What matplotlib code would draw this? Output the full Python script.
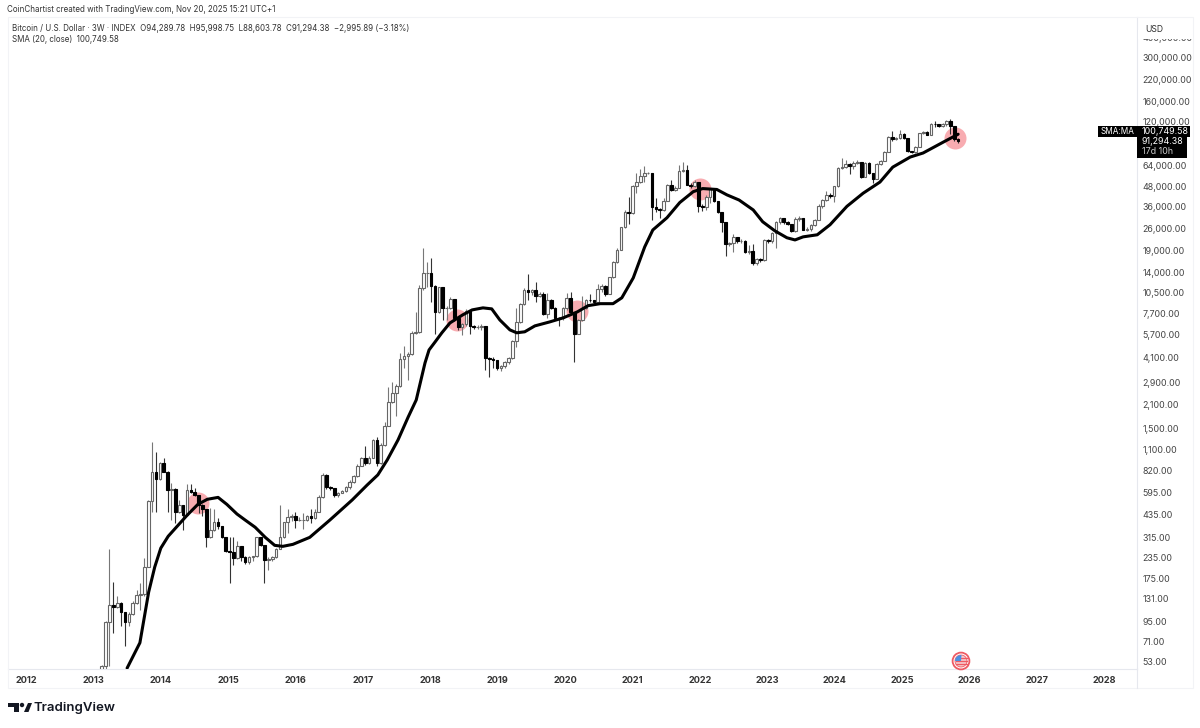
import matplotlib
matplotlib.use("Agg")
from matplotlib import pyplot as plt
from matplotlib.patches import Rectangle, Circle, Polygon, Wedge

plt.rcParams['font.family'] = ['Inter', 'DejaVu Sans']

# precios de cierre, maximos y minimos de cada vela de 3 semanas
first_open = 46
closes = [50, 94, 120, 117, 124, 109, 94, 105, 124, 139, 141, 207, 530, 800, 730, 910, 805, 620, 630, 450,
          500, 435, 620, 605, 578, 500, 473, 315, 350, 390, 370, 315, 260, 256, 235, 277, 238, 220, 238, 240,
          315, 282, 228, 232, 238, 268, 316, 390, 420, 428, 405, 405, 405, 428,
          418, 455, 560, 770, 645, 635, 575, 595, 610, 650, 695, 760, 880, 985, 910, 985, 1270, 910, 1175, 1560,
          2190, 2500, 2750, 4040, 4220, 4350, 5900, 5950, 11100, 13900, 13900, 11500, 7900, 11300, 8400, 8400,
          9550, 7300, 6400, 6660, 8050, 6500, 6350, 6400, 6450, 4100, 4050, 3980, 3560, 3650, 3850, 4100, 5200, 6900,
          8880, 10900, 10600, 10800, 10000, 10200, 7700, 9400, 8400, 7300, 7250, 8360, 9700, 7950, 5800, 7060,
          8360, 9400, 9350, 9200, 10950, 11550, 10200, 13000, 16100, 19300, 26600, 32900, 32600, 48200, 50500,
          55600, 57600, 57600, 35800, 34600, 34300, 38500, 48700, 45300, 47000, 59500, 60500, 49000, 48000, 50700,
          35900, 35800, 41000, 46000, 38500, 33000, 28700, 20900, 21200, 23000, 21800,
          21900, 18700, 19000, 16000, 16900, 16700, 22200, 22000, 24600, 28700, 30200, 28900, 27900, 25200, 30100,
          30200, 25700, 25800, 27500, 29600, 36200, 39300, 42400, 41900, 48000, 62200, 62800, 65500, 64200, 66700,
          67800, 54700, 66900, 57500, 53300, 65500, 68700, 78300, 96500, 94000, 95000, 101000, 95200, 78900, 78500,
          83900, 102000, 103500, 99800, 117000, 116500, 113500, 117000, 122000, 113300, 94290.27, 91294.38]
highs = [51, 95, 267, 167, 137, 125, 109, 109, 126, 149, 165, 235, 535, 1240, 1070, 925, 985, 810, 690, 635,
         538, 500, 675, 680, 640, 580, 510, 475, 480, 472, 418, 370, 315, 315, 315, 297, 277, 240, 240, 242,
         318, 315, 282, 238, 240, 270, 500, 392, 470, 440, 455, 420, 445, 432,
         470, 470, 575, 790, 775, 660, 640, 605, 620, 660, 715, 770, 900, 1000, 1160, 1010, 1290, 1330, 1210, 1630,
         2700, 2900, 2830, 4420, 4900, 4450, 6000, 7900, 11700, 19700, 16200, 17200, 11700, 11400, 11300, 8600,
         9750, 9550, 7300, 6800, 8300, 8050, 6550, 6600, 6650, 6450, 4150, 4150, 4000, 3700, 3950, 4170, 5300, 8400,
         9050, 11150, 13700, 11000, 12100, 10500, 10500, 10400, 9500, 8450, 7400, 8500, 10400, 10500, 7950, 7200,
         9900, 9600, 10200, 9400, 11900, 11900, 11700, 13100, 16400, 19700, 26900, 34000, 41000, 48700, 57900,
         61000, 63500, 58500, 58000, 40300, 35100, 40400, 49500, 52000, 47800, 65000, 67500, 65000, 50000, 52000,
         50500, 37000, 42000, 46700, 46000, 38500, 33000, 28700, 21600, 24300, 23200,
         22400, 22100, 20700, 21000, 17200, 17100, 22500, 22600, 25000, 29000, 30800, 30500, 29200, 28000, 31000,
         31200, 30000, 26900, 27900, 29900, 37000, 39700, 44600, 43400, 48300, 63000, 72000, 69700, 66500, 69000,
         69800, 67500, 67700, 67900, 57500, 66300, 70000, 79500, 98000, 106000, 97000, 107000, 102000, 96000, 79800,
         85000, 103000, 106000, 106000, 118000, 122500, 116500, 118000, 124000, 125000, 113500, 95998.75]
lows = [45, 46, 50, 80, 115, 88, 67, 88, 103, 122, 112, 136, 205, 450, 450, 715, 800, 450, 404, 385,
        445, 350, 430, 595, 570, 445, 425, 275, 310, 345, 355, 310, 255, 165, 213, 232, 225, 215, 216, 225,
        238, 280, 165, 198, 226, 236, 265, 314, 335, 400, 360, 400, 355, 400,
        385, 410, 450, 550, 630, 620, 560, 565, 590, 600, 630, 690, 745, 870, 890, 900, 980, 880, 900, 1170,
        1550, 2150, 1800, 2720, 3560, 3000, 4250, 5800, 5900, 10800, 11300, 9100, 5800, 7800, 7050, 7050,
        8300, 6950, 6150, 5700, 6500, 5800, 6250, 6250, 6150, 3460, 3130, 3530, 3450, 3420, 3560, 3780, 4050, 4800,
        6760, 8700, 9400, 10150, 9200, 9750, 7550, 7300, 8300, 7100, 6500, 7050, 8200, 7800, 3870, 5750,
        7000, 8250, 9100, 9000, 9200, 10500, 10000, 10200, 12900, 16000, 19200, 26300, 27700, 32300, 43300,
        50000, 50500, 56900, 29600, 33000, 30300, 33800, 38500, 44500, 45000, 47000, 59000, 48500, 46900, 47500,
        33000, 33700, 33900, 37700, 38000, 32500, 24800, 17600, 20500, 18700, 21300,
        21400, 18300, 18100, 15500, 15600, 16300, 16500, 21400, 21400, 19900, 27800, 28000, 27300, 24700, 25000,
        29300, 25500, 25200, 25400, 27200, 29500, 35000, 39000, 40500, 38000, 47500, 61500, 61700, 56800, 61500,
        66000, 54200, 54500, 57000, 49800, 52800, 64800, 68500, 78000, 92000, 93000, 94500, 94500, 78200, 77000,
        77000, 83500, 101000, 99000, 99500, 112000, 111500, 111000, 113500, 101500, 91500, 88603.78]
last_bar_year = 2025.83
bar_step_years = 21 / 365.25

# SMA(20)
sma_years = [2013.50, 2013.69, 2013.82, 2013.91, 2014.00, 2014.11, 2014.23, 2014.39, 2014.55, 2014.69, 2014.85,
             2014.98, 2015.13, 2015.25, 2015.40, 2015.55, 2015.69, 2015.81, 2015.96, 2016.21, 2016.51, 2016.84,
             2017.06, 2017.22, 2017.36, 2017.52, 2017.67, 2017.79, 2017.92, 2017.98, 2018.07, 2018.17, 2018.29,
             2018.48, 2018.62, 2018.78, 2018.91, 2019.03, 2019.18, 2019.28, 2019.40, 2019.55, 2019.77, 2019.97,
             2020.18, 2020.34, 2020.52, 2020.71, 2020.84, 2021.01, 2021.18, 2021.30, 2021.51, 2021.70, 2021.90,
             2022.04, 2022.25, 2022.40, 2022.58, 2022.79, 2022.93, 2023.11, 2023.29, 2023.41, 2023.53, 2023.74,
             2023.93, 2024.18, 2024.42, 2024.67, 2024.86, 2025.12, 2025.31, 2025.61, 2025.83]
sma_values = [48.5, 69.7, 144, 206, 270, 320, 364, 432, 505, 543, 558,
              505, 440, 404, 364, 315, 281, 277, 285, 315, 404, 538,
              665, 770, 954, 1270, 1760, 2250, 3820, 4600, 5160, 5880, 6770,
              7600, 8160, 8400, 8280, 7070, 6130, 5880, 5965, 6490, 6870, 7280,
              7930, 8670, 8920, 8920, 9700, 12900, 20100, 25600, 30500, 37900, 44300,
              46300, 45700, 42300, 39300, 34100, 28800, 25300, 22900, 22200, 23200, 23900,
              27600, 35900, 43300, 50800, 62900, 72700, 77000, 90000, 100749.58]

# circulos rosas
hl_years = [2014.55, 2018.39, 2020.18, 2022.00, 2025.78]
hl_prices = [512, 7070, 8030, 46300, 95000]

price_ticks = [400000, 300000, 220000, 160000, 120000, 64000, 48000, 36000, 26000, 19000, 14000, 10500, 7700,
               5700, 4100, 2900, 2100, 1500, 1100, 820, 595, 435, 315, 235, 175, 131, 95, 71, 53]
year_ticks = list(range(2012, 2029))

n = len(closes)
opens = [first_open] + closes[:-1]
opens[-1] = 94289.78
years = [last_bar_year - (n - 1 - i) * bar_step_years for i in range(n)]

W, H = 1200, 728
fig = plt.figure(figsize=(12, 7.28), dpi=100, facecolor='white')
ax = fig.add_axes([8 / W, 1 - 669 / H, (1137 - 8) / W, (669 - 17) / H])
ax.set_yscale('log')
ax.set_xlim(2011.733, 2028.484)
ax.set_ylim(47.9, 539000)

# circulos
ax.scatter(hl_years, hl_prices, s=251, color='#f8a8ad', linewidths=0, zorder=1, alpha=0.95)

# velas
for i in range(n):
    up = closes[i] >= opens[i]
    wick_col = '#777777' if up else '#333333'
    ax.vlines(years[i], lows[i], highs[i], color=wick_col, lw=0.8, zorder=2)
    bottom = min(opens[i], closes[i])
    height = abs(closes[i] - opens[i])
    if up:
        ax.bar(years[i], height, bottom=bottom, width=0.038, color='white', edgecolor='#666666', lw=0.8, zorder=3)
    else:
        ax.bar(years[i], height, bottom=bottom, width=0.038, color='black', edgecolor='black', lw=0.8, zorder=3)

ax.plot(sma_years, sma_values, color='black', lw=2.2, zorder=4, solid_capstyle='round')

ax.yaxis.tick_right()
ax.set_yticks(price_ticks)
ax.set_yticklabels(['{:,.2f}'.format(p) for p in price_ticks], fontsize=6.4, color='#444444')
ax.minorticks_off()
ax.set_xticks(year_ticks)
ax.set_xticklabels([str(y) for y in year_ticks], fontsize=6.6, fontweight='bold', color='#333333')
ax.tick_params(axis='both', length=0)
ax.tick_params(axis='y', pad=4)
ax.tick_params(axis='x', pad=5)
for s in ['top', 'left']:
    ax.spines[s].set_visible(False)
ax.spines['right'].set_color('#e6e8ee')
ax.spines['bottom'].set_color('#e6e8ee')

# capa en pixeles para etiquetas, bandera y logo
ov = fig.add_axes([0, 0, 1, 1], facecolor='none')
ov.set_xlim(0, W)
ov.set_ylim(H, 0)
ov.axis('off')

ov.add_patch(Rectangle((8, 17), 1185, 671, fill=False, ec='#f2f3f6', lw=0.8))
ov.plot([1137, 1137], [669, 688], color='#e6e8ee', lw=0.8)
ov.add_patch(Rectangle((1138, 30), 54, 9, fc='white', ec='none'))

ov.text(7, 10, 'CoinChartist created with TradingView.com, Nov 20, 2025 15:21 UTC+1', fontsize=5.75, color='#333333', va='center')
ov.text(12, 28.5, 'Bitcoin / U.S. Dollar · 3W · INDEX  O94,289.78  H95,998.75  L88,603.78  C91,294.38  −2,995.89 (−3.18%)',
        fontsize=5.75, color='#333333', va='center')
ov.text(12, 39.5, 'SMA (20, close)  100,749.58', fontsize=5.75, color='#333333', va='center')
ov.text(1145, 29, 'USD', fontsize=6.2, color='#333333', va='center')

ov.add_patch(Rectangle((1098, 126), 39, 11, fc='black', ec='none', zorder=5))
ov.add_patch(Rectangle((1137, 126), 53, 11, fc='black', ec='none', zorder=5))
ov.add_patch(Rectangle((1137, 137), 50, 21, fc='black', ec='none', zorder=5))
ov.text(1117.5, 131.5, 'SMA:MA', fontsize=5.9, color='white', ha='center', va='center', zorder=6)
ov.text(1142, 131.5, '100,749.58', fontsize=6.4, color='white', va='center', zorder=6)
ov.text(1142, 142, '91,294.38', fontsize=6.4, color='white', va='center', zorder=6)
ov.text(1142, 151.5, '17d 10h', fontsize=6.4, color='#cccccc', va='center', zorder=6)

# bandera
ov.add_patch(Circle((961, 661), 8.4, fc='white', ec='#ee5a63', lw=1.3, zorder=5))
ov.add_patch(Circle((961, 661), 6, fc='#f7c7ca', ec='#ee5a63', lw=0.6, zorder=5))
for yy in [658, 661, 664]:
    ov.plot([956, 967], [yy, yy], color='#ee5a63', lw=0.9, zorder=6)
ov.add_patch(Wedge((961, 661), 6, 180, 275, fc='#4a90e2', ec='none', zorder=7))

# logo
ov.add_patch(Polygon([(8, 703), (19, 703), (19, 712), (14, 712), (14, 707), (8, 707)], fc='#131722', ec='none'))
ov.add_patch(Circle((22, 705), 2.2, fc='#131722', ec='none'))
ov.add_patch(Polygon([(24, 712), (28, 703), (32, 703), (28.5, 712)], fc='#131722', ec='none'))
ov.text(33, 708.5, 'TradingView', fontsize=9.5, color='#131722', va='center', fontweight='semibold')

fig.savefig('out.png', dpi=100)
